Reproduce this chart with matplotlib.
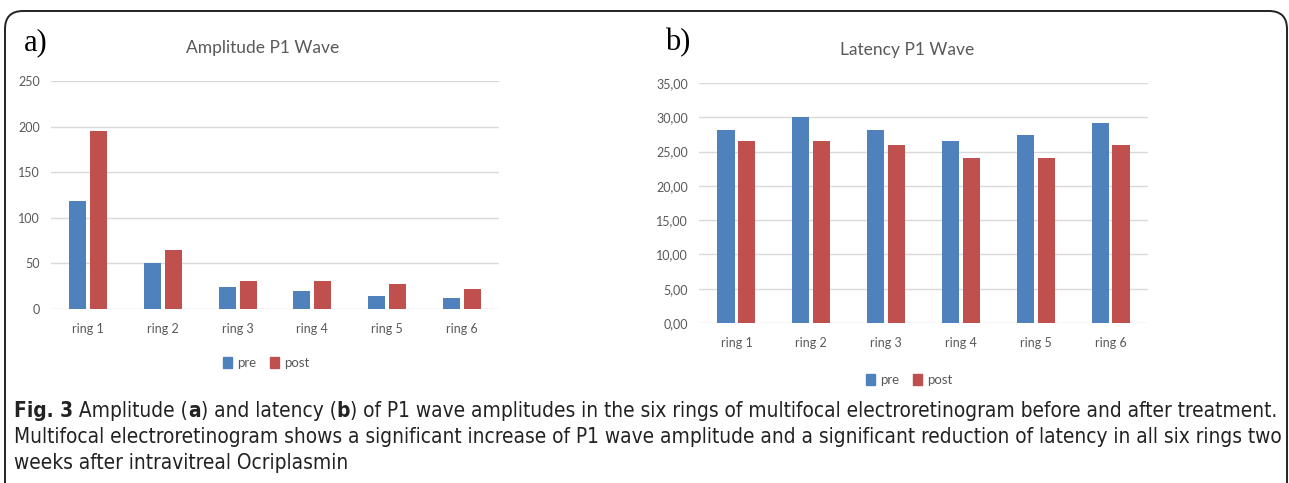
import matplotlib
matplotlib.use("Agg")
import matplotlib.pyplot as plt
from matplotlib.patches import FancyBboxPatch, Patch
from matplotlib.ticker import FuncFormatter
from matplotlib import font_manager

# Data
rings = ["ring 1", "ring 2", "ring 3", "ring 4", "ring 5", "ring 6"]
amp_pre = [118, 50, 24.5, 20, 14.6, 11.7]
amp_post = [195, 65, 31, 31, 27, 21.6]
lat_pre = [28.2, 30.0, 28.2, 26.6, 27.4, 29.1]
lat_post = [26.6, 26.6, 25.9, 24.0, 24.0, 25.9]
series_names = ["pre", "post"]
amp_ticks = [0, 50, 100, 150, 200, 250]
lat_ticks = [0, 5, 10, 15, 20, 25, 30, 35]

BLUE = "#4F81BD"
RED = "#C0504D"
GRID = "#D9D9D9"
TXT = "#595959"

installed = {f.name for f in font_manager.fontManager.ttflist}
chart_font = "Lato" if "Lato" in installed else "DejaVu Sans"
serif_font = "Liberation Serif" if "Liberation Serif" in installed else "DejaVu Serif"
cap_font = "DejaVu Sans"
condensed = any(f.name == "DejaVu Sans" and "ondensed" in f.fname for f in font_manager.fontManager.ttflist)
cap_stretch = "condensed" if condensed else "normal"

plt.rcParams["font.family"] = chart_font

W, H = 1289, 483
fig = plt.figure(figsize=(W / 100, H / 100), dpi=100)


def px_axes(left, top, right, bottom):
    return fig.add_axes([left / W, 1 - bottom / H, (right - left) / W, (bottom - top) / H])


def bar_panel(ax, pre, post, ticks, fmt, title, title_x, legend_y, legend_x):
    x = list(range(len(rings)))
    ax.bar([i - 0.14 for i in x], pre, width=0.23, color=BLUE, label=series_names[0], zorder=3)
    ax.bar([i + 0.14 for i in x], post, width=0.23, color=RED, label=series_names[1], zorder=3)
    ax.set_xlim(-0.5, len(rings) - 0.5)
    ax.set_ylim(ticks[0], ticks[-1])
    ax.set_yticks(ticks)
    ax.yaxis.set_major_formatter(FuncFormatter(fmt))
    ax.set_xticks(x)
    ax.set_xticklabels(rings)
    ax.grid(axis="y", color=GRID, linewidth=1, zorder=0)
    for s in ax.spines.values():
        s.set_visible(False)
    ax.tick_params(length=0, labelsize=9, labelcolor=TXT)
    ax.tick_params(axis="x", pad=10)
    ax.tick_params(axis="y", pad=8)
    ax.set_title(title, fontsize=12.5, color=TXT, pad=20, x=title_x)
    handles = [Patch(color=BLUE), Patch(color=RED)]
    ax.legend(handles, series_names, loc="center", bbox_to_anchor=(legend_x, legend_y),
              ncol=2, frameon=False, fontsize=9.5, handlelength=0.7, handleheight=0.9,
              handletextpad=0.4, columnspacing=1.0, labelcolor=TXT)


ax1 = px_axes(51, 81, 499, 309)
bar_panel(ax1, amp_pre, amp_post, amp_ticks, lambda v, p: f"{v:.0f}",
          "Amplitude P1 Wave", 0.473, -0.237, 0.48)

ax2 = px_axes(699, 83, 1148, 323)
bar_panel(ax2, lat_pre, lat_post, lat_ticks, lambda v, p: f"{v:.2f}".replace(".", ","),
          "Latency P1 Wave", 0.463, -0.2375, 0.468)

fig.text(24 / W, 1 - 43 / H, "a)", fontsize=22, family=serif_font, va="center", ha="left")
fig.text(665 / W, 1 - 43 / H, "b)", fontsize=22, family=serif_font, va="center", ha="left")

# rounded border around the figure
border = FancyBboxPatch((5 / W, -0.05), (1287 - 5) / W, (H - 11) / H + 0.05,
                        boxstyle="round,pad=0,rounding_size=0.014", transform=fig.transFigure,
                        fill=False, edgecolor="#222222", linewidth=1.4, mutation_aspect=W / H)
fig.add_artist(border)

# caption with mixed bold pieces
caption = [
    [("Fig. 3", "bold"), (" Amplitude (", "normal"), ("a", "bold"), (") and latency (", "normal"),
     ("b", "bold"), (") of P1 wave amplitudes in the six rings of multifocal electroretinogram before and after treatment.", "normal")],
    [("Multifocal electroretinogram shows a significant increase of P1 wave amplitude and a significant reduction of latency in all six rings two", "normal")],
    [("weeks after intravitreal Ocriplasmin", "normal")],
]
renderer = fig.canvas.get_renderer()
line_y = [411, 437, 463]


def draw_caption(size):
    drawn = []
    ends = []
    for pieces, yy in zip(caption, line_y):
        xx = 14
        for s, w in pieces:
            t = fig.text(xx / W, 1 - yy / H, s, fontsize=size, family=cap_font, weight=w,
                         stretch=cap_stretch, color="#222222", va="center", ha="left")
            drawn.append(t)
            xx = t.get_window_extent(renderer).x1
        ends.append(xx)
    return drawn, max(ends)


cap_size = 11.0
for _ in range(3):
    drawn, end = draw_caption(cap_size)
    for t in drawn:
        t.remove()
    cap_size *= (1276 - 14) / (end - 14)
draw_caption(cap_size)

fig.savefig("out.png", dpi=100)
